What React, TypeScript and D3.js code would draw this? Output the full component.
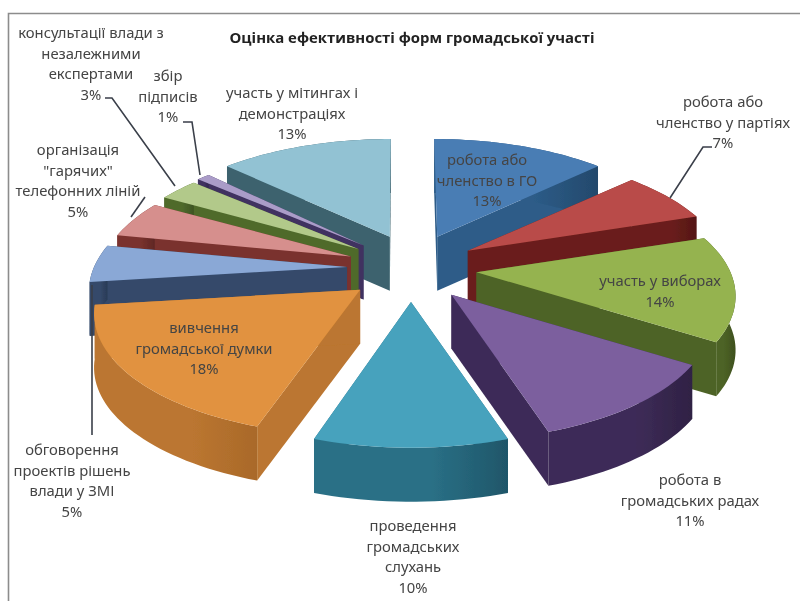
import React from "react";
import * as d3 from "d3";

const title = "Оцінка ефективності форм громадської участі";
const categories = [
  "робота або членство в ГО",
  "робота або членство у партіях",
  "участь у виборах",
  "робота в громадських радах",
  "проведення громадських слухань",
  "вивчення громадської думки",
  "обговорення проектів рішень влади у ЗМІ",
  "організація \"гарячих\" телефонних ліній",
  "консультації влади з незалежними експертами",
  "збір підписів",
  "участь у мітингах і демонстраціях",
];
const values = [13, 7, 14, 11, 10, 18, 5, 5, 3, 1, 13];
const topColors = ["#4a7db4", "#b94c48", "#95b350", "#7b5f9e", "#46a2bd", "#e1923f", "#8aa8d6", "#d68f8d", "#b2c98a", "#aa9cc8", "#92c2d3"];
const sideColors = ["#2d5c88", "#6b1e1c", "#4e6426", "#3e2c58", "#2a7086", "#bb7630", "#34496a", "#7a322e", "#4f6a2c", "#3f3160", "#3c626e"];
const rimDarkColors = ["#23496c", "#541715", "#3e501e", "#2f2144", "#1f5669", "#a9692a", "#2a3b56", "#602724", "#3e5423", "#32264c", "#2f4e58"];

const labelLines = [
  ["робота або", "членство в ГО", "13%"],
  ["робота або", "членство у партіях", "7%"],
  ["участь у виборах", "14%"],
  ["робота в", "громадських радах", "11%"],
  ["проведення", "громадських", "слухань", "10%"],
  ["вивчення", "громадської думки", "18%"],
  ["обговорення", "проектів рішень", "влади у ЗМІ", "5%"],
  ["організація", "\"гарячих\"", "телефонних ліній", "5%"],
  ["консультації влади з", "незалежними", "експертами", "3%"],
  ["збір", "підписів", "1%"],
  ["участь у мітингах і", "демонстраціях", "13%"],
];
const labelCenters: [number, number][] = [
  [487, 160], [723, 102], [660, 281], [690, 480], [413, 526], [204, 328],
  [72, 450], [78, 150], [91, 33], [168, 76], [292, 93],
];
const leaders: [number, number][][] = [
  [[712, 147], [703, 147], [670, 198]],
  [[92, 285], [92, 435]],
  [[145, 197], [131, 217]],
  [[105, 98], [112, 98], [175, 186]],
  [[183, 122], [192, 122], [200, 175]],
];

const W = 800, H = 601;
const cx = 411, cy = 268, explodeX = 66, explodeY = 34;
const Rx = 255, Ry = 117, persp = 0.197, depth = 54;
const drawOrder = [10, 9, 8, 7, 6, 0, 1, 2, 5, 3, 4];
// small per-slice corrections for the reference's uneven perspective
const apexNudgeX = [0, 0, 0, 0, 0, 0, 2, 2, 2, 2, 5];
const rimNudgeX = [-3, 0, -1, 0, 0, -6, 2, 8, 10, 9, 1];

const rimPoint = (a: number, apex: [number, number], shift: number): [number, number] => {
  const u = Math.sin(a), v = Math.cos(a);
  const s = 1 / (1 + persp * v);
  return [apex[0] + u * Rx * s + shift, apex[1] - v * Ry * s];
};

const line = d3.line<[number, number]>();
const down = (p: [number, number]): [number, number] => [p[0], p[1] + depth];

const slices = d3.pie<number>().sort(null)(values).map((d, i) => {
  const mid = (d.startAngle + d.endAngle) / 2;
  const apex: [number, number] = [cx + Math.sin(mid) * explodeX + apexNudgeX[i], cy - Math.cos(mid) * explodeY];
  const n = Math.max(4, Math.ceil((d.endAngle - d.startAngle) / 0.03));
  const rim = d3.range(n + 1).map((k) => rimPoint(d.startAngle + ((d.endAngle - d.startAngle) * k) / n, apex, rimNudgeX[i]));
  return { i, apex, rim };
});

export default function App() {
  return (
    <svg width={W} height={H} viewBox={`0 0 ${W} ${H}`} style={{ position: "absolute", left: 0, top: 0, background: "#fff" }}>
      <defs>
        <filter id="soft" x="-5%" y="-5%" width="110%" height="110%">
          <feGaussianBlur stdDeviation="0.75" />
        </filter>
        {slices.map((s) => (
          <linearGradient key={s.i} id={`rim${s.i}`} x1="0" x2="1" y1="0" y2="0">
            <stop offset="0" stopColor={sideColors[s.i]} />
            <stop offset="0.6" stopColor={sideColors[s.i]} />
            <stop offset="1" stopColor={rimDarkColors[s.i]} />
          </linearGradient>
        ))}
      </defs>
      <g filter="url(#soft)">
        <path d={line([[8.5, H + 10], [8.5, 13.5], [W + 10, 13.5]]) as string} fill="none" stroke="#8c8c8c" strokeWidth={1.6} />
        {drawOrder.map((idx) => {
          const s = slices[idx];
          const first = s.rim[0], last = s.rim[s.rim.length - 1];
          const wall = (p: [number, number]) => line([s.apex, p, down(p), down(s.apex)]) + "Z";
          const rimWall = line([...s.rim, ...s.rim.map(down).reverse()]) + "Z";
          const top = line([s.apex, ...s.rim]) + "Z";
          return (
            <g key={idx}>
              <path d={wall(first)} fill={sideColors[idx]} />
              <path d={wall(last)} fill={sideColors[idx]} />
              <path d={rimWall} fill={`url(#rim${idx})`} />
              <path d={top} fill={topColors[idx]} />
            </g>
          );
        })}
        {leaders.map((pts, i) => (
          <path key={i} d={line(pts) as string} fill="none" stroke="#3a3f4a" strokeWidth={1.6} />
        ))}
        <text x={412} y={43} textAnchor="middle" fontFamily="'Open Sans', sans-serif" fontWeight={700} fontSize={14.9} fill="#222">
          {title}
        </text>
        {labelLines.map((lines, i) => (
          <text key={categories[i]} textAnchor="middle" fontFamily="'Noto Sans', sans-serif" fontSize={14.8} fill="#444">
            {lines.map((t, k) => (
              <tspan key={k} x={labelCenters[i][0]} y={labelCenters[i][1] + 5 + k * 20.6}>
                {t}
              </tspan>
            ))}
          </text>
        ))}
      </g>
    </svg>
  );
}
